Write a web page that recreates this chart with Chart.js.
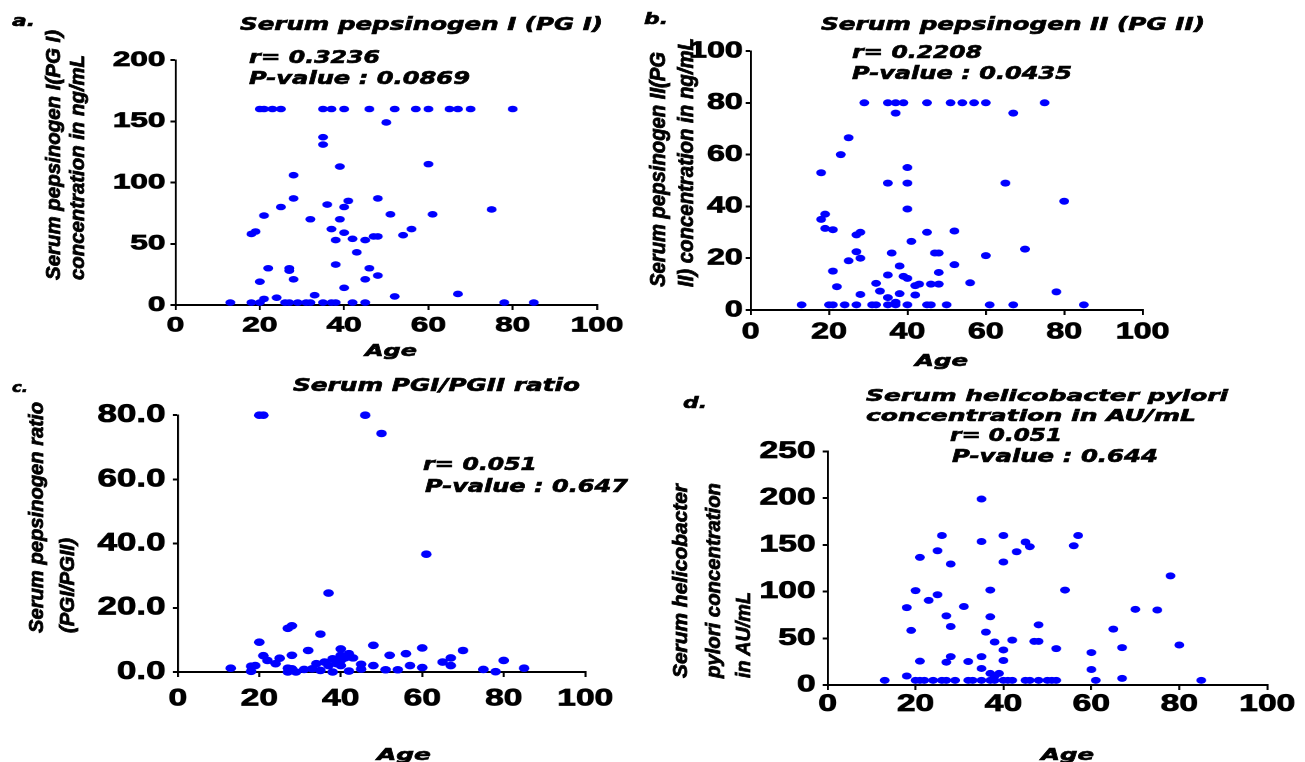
<!DOCTYPE html>
<html><head><meta charset="utf-8">
<script src="https://cdn.jsdelivr.net/npm/chart.js@4.4.1/dist/chart.umd.min.js"></script>
<style>
html,body{margin:0;padding:0;background:#fff;width:1305px;height:762px;overflow:hidden;}
.panel{position:absolute;top:0;width:700px;height:762px;transform-origin:0 0;}
.panel canvas{position:absolute;}
#overlay{position:absolute;left:0;top:0;width:1305px;height:762px;}
.t{position:absolute;white-space:nowrap;line-height:1;color:#000;}
.h{-webkit-text-stroke:0.6px #000;}
.v{-webkit-text-stroke:0.8px #000;}
</style></head><body>
<div id="pa" class="panel"><canvas id="ca"></canvas></div>
<div id="pb" class="panel"><canvas id="cb"></canvas></div>
<div id="pc" class="panel"><canvas id="cc"></canvas></div>
<div id="pd" class="panel"><canvas id="cd"></canvas></div>
<div id="overlay"></div>
<script>
// ---------- DATA ----------
const ageA = [20,21,23,25,35,37,40,46,52,57,60,65,67,70,80,
  50,35,35,39,60,28,28,48,25,36,40,41,21,51,61,75,32,39,18,19,37,56,40,38,42,45,47,48,54,43,22,27,27,28,20,38,46,45,48,40,33,52,67,24,21,
  13,18,20,26,27,29,31,32,35,37,38,42,45,78,85];
const pg1 = [160,160,160,160,160,160,160,160,160,160,160,160,160,160,160,
  149,137,131,113,115,106,87,87,80,82,80,85,73,74,74,78,70,70,58,60,62,62,59,53,54,53,56,56,57,43,30,30,28,21,19,33,30,21,24,14,8,7,9,6,5,
  2,2,2,2,2,2,2,2,2,2,2,2,2,2,2];

const ageB = [29,35,37,39,45,51,54,57,60,75,
  37,67,25,23,18,35,40,40,65,40,80,19,18,19,21,27,28,45,52,41,27,28,25,36,47,48,60,70,38,52,21,35,39,40,48,22,32,33,42,43,46,48,56,28,35,38,42,78,37,
  13,20,21,24,27,31,32,35,37,40,45,46,50,61,67,85];
const pg2 = [80,80,80,80,80,80,80,80,80,80,
  76,76,66.5,60,53,49,55,49,49,39,42,37,35,31.5,31,29,30,30,30.5,26.5,22.5,20,19,22,22,22,21,23.5,17,17.5,15,13.5,13,12.2,14.5,9,10.3,7.3,9.4,10,10,10,10.5,6,4.8,6.3,5.8,7,3,
  2,2,2,2,2,2,2,2,2,2,2,2,2,2,2,2];

const ageC = [20,21,46,50,61,37,27,28,35,20,48,60,70,32,40,28,21,25,42,43,52,56,67,65,67,80,57,60,13,75,78,85,54,51,42,45,45,48,24,22,18,19,18,27,27,29,31,33,35,36,37,38,38,39,40,40,41,34,28,40];
const ratio = [80,80,80,74.3,36.7,24.6,13.6,14.4,11.8,9.3,8.3,7.5,6.7,6.7,7.2,5.2,5.1,4.3,5.7,4.4,5.2,5.7,4.4,3.1,2,3.6,2,1.4,1.2,0.8,0.1,1.2,0.7,0.7,0.3,0.9,2.4,2,2.6,3.6,1.8,2,0.2,1.2,0,0,0.8,1,0.5,3.1,2,4.1,0,2.6,3.6,2,4.4,2.6,1,5.2];

const ageD = [35,26,40,57,35,45,46,56,43,25,21,28,40,78,20,37,54,25,23,18,31,70,75,27,37,28,48,19,65,36,38,42,47,48,80,40,52,67,28,35,60,27,21,32,40,35,60,18,67,37,38,39,
  13,20,21,22,24,26,27,29,32,33,35,37,38,40,41,42,45,46,48,50,51,52,61,85];
const hpylori = [199,160,160,160,153.6,153,148,149,142.6,143.7,136.6,129.5,131.6,116.8,101,101.6,101.6,96.6,90.6,82.8,84,81,80.3,74,73,62.6,64.4,58.4,59.8,56.6,46,48,46.7,46.7,42.8,37.5,38.9,40,30.4,30.4,34.7,24.4,25.5,25.1,26.2,17.7,16.6,9.6,7.1,12.4,9.6,12.4,
  5,5,5,5,5,5,5,5,5,5,5,5,5,5,5,5,5,5,5,5,5,5,5,5];

const xTicksMax = 100, xStep = 20;

// ---------- LAYOUT ----------
const PANELS = [
  {div:'pa', canvas:'ca', ages:ageA, vals:pg1, yMax:200, yStep:50, dec:0, origin:0,   sx:1.5, L:175,   R:596.7, T:60,    B:305,   xFont:21, yFont:21, yPad:3.4, xPad:3,   r:3.3},
  {div:'pb', canvas:'cb', ages:ageB, vals:pg2, yMax:100, yStep:20, dec:0, origin:640, sx:1.4, L:750,   R:1142.7,T:50.7,  B:310,   xFont:23, yFont:23, yPad:2,   xPad:3.5, r:3.5},
  {div:'pc', canvas:'cc', ages:ageC, vals:ratio, yMax:80, yStep:20, dec:1, origin:0,  sx:1.4, L:177.3, R:585,   T:413.3, B:671.7, xFont:24, yFont:25, yPad:5.2, xPad:7.5, r:3.8},
  {div:'pd', canvas:'cd', ages:ageD, vals:hpylori, yMax:250, yStep:50, dec:0, origin:640, sx:1.4, L:827.3, R:1267, T:449.5, B:685, xFont:24, yFont:24, yPad:5, xPad:0, r:3.5}
];
const PADL=8, PADT=18, PADR=28, PADB=4, YW=70, XH=52;

PANELS.forEach(p => {
  const div = document.getElementById(p.div);
  div.style.left = p.origin + 'px';
  div.style.transform = 'scaleX(' + p.sx + ')';
  const l = (p.L - p.origin) / p.sx, r = (p.R - p.origin) / p.sx;
  const cl = Math.round(l - PADL - YW);
  const ct = Math.round(p.T - PADT);
  const cv = document.getElementById(p.canvas);
  const W = Math.round(r - cl + PADR);
  const H = Math.round(p.B - ct + XH + PADB);
  cv.width = W; cv.height = H;
  cv.style.left = (l - PADL - YW) + 'px';
  cv.style.top = (p.T - PADT) + 'px';
  const pts = p.ages.map((a, i) => ({x: a, y: p.vals[i]}));
  new Chart(cv, {
    type: 'scatter',
    data: {datasets: [{data: pts, backgroundColor: '#0000ff', borderWidth: 0, pointRadius: p.r, pointHoverRadius: p.r, clip: false}]},
    options: {
      responsive: false, animation: false, devicePixelRatio: 2,
      layout: {padding: {left: PADL, top: PADT, right: PADR, bottom: PADB}},
      plugins: {legend: {display: false}, tooltip: {enabled: false}},
      scales: {
        x: {type: 'linear', min: 0, max: xTicksMax,
            ticks: {stepSize: xStep, color: '#000', padding: p.xPad, maxRotation: 0, autoSkip: false,
                    textStrokeColor: '#000', textStrokeWidth: 0.8,
                    font: {family: 'Liberation Sans', size: p.xFont, weight: 'bold'}},
            grid: {display: true, drawOnChartArea: false, drawTicks: true, tickLength: 5, color: '#000', lineWidth: 2 / p.sx},
            border: {display: true, color: '#000', width: 2},
            afterFit: s => { s.height = XH; }},
        y: {type: 'linear', min: 0, max: p.yMax,
            ticks: {stepSize: p.yStep, color: '#000', padding: p.yPad, callback: v => Number(v).toFixed(p.dec),
                    textStrokeColor: '#000', textStrokeWidth: 0.8,
                    font: {family: 'Liberation Sans', size: p.yFont, weight: 'bold'}},
            grid: {display: true, drawOnChartArea: false, drawTicks: true, tickLength: 5 / p.sx, color: '#000', lineWidth: 2},
            border: {display: true, color: '#000', width: 2 / p.sx},
            afterFit: s => { s.width = YW; }}
      }
    }
  });
  cv.style.width = W + 'px'; cv.style.height = H + 'px';
});

// ---------- TEXT ----------
const TEXTS = [
  {t:'a.', x:12, cy:20, w:23, size:16},
  {t:'Serum pepsinogen I (PG I)', x:240, cy:23.5, w:363, size:17},
  {t:'r= 0.3236', x:249, cy:57, w:131, size:17},
  {t:'P-value : 0.0869', x:249, cy:78, w:221, size:17},
  {t:'Age', x:365, cy:350, w:52, size:16},
  {t:'Serum pepsinogen I(PG I)', rot:true, cx:53, bottom:280, len:250, size:21},
  {t:'concentration in ng/mL', rot:true, cx:77, bottom:280, len:225, size:21},

  {t:'b.', x:644, cy:18, w:24, size:16},
  {t:'Serum pepsinogen II (PG II)', x:821, cy:23.5, w:384, size:17},
  {t:'r= 0.2208', x:852, cy:51.5, w:130, size:17},
  {t:'P-value : 0.0435', x:852, cy:72.5, w:220, size:17},
  {t:'Age', x:915, cy:360, w:53, size:16},
  {t:'Serum pepsinogen II(PG', rot:true, cx:658, bottom:287, len:235, size:22},
  {t:'II) concentration in ng/mL', rot:true, cx:686, bottom:287, len:249, size:22},

  {t:'c.', x:12, cy:387, w:16, size:14},
  {t:'Serum PGI/PGII ratio', x:293, cy:385, w:287, size:17},
  {t:'r= 0.051', x:423, cy:463.5, w:114, size:17},
  {t:'P-value : 0.647', x:425, cy:486, w:203, size:17},
  {t:'Age', x:377, cy:754, w:54, size:16},
  {t:'Serum pepsinogen ratio', rot:true, cx:36, bottom:633, len:231, size:21},
  {t:'(PGI/PGII)', rot:true, cx:67, bottom:633, len:95, size:21},

  {t:'d.', x:683, cy:402, w:24, size:16},
  {t:'Serum helicobacter pylori', x:866, cy:395, w:362, size:16},
  {t:'concentration in AU/mL', x:866, cy:415, w:330, size:16},
  {t:'r= 0.051', x:950, cy:434.5, w:112, size:17},
  {t:'P-value : 0.644', x:952, cy:455.5, w:206, size:17},
  {t:'Age', x:1041, cy:754, w:53, size:16},
  {t:'Serum helicobacter', rot:true, cx:680, bottom:678, len:194, size:21},
  {t:'pylori concentration', rot:true, cx:713, bottom:678, len:195, size:21},
  {t:'in AU/mL', rot:true, cx:743, bottom:678, len:86, size:21}
];
const overlay = document.getElementById('overlay');
TEXTS.forEach(s => {
  const el = document.createElement('div');
  el.className = 't ' + (s.rot ? 'v' : 'h');
  el.textContent = s.t;
  if (s.rot) {
    el.style.font = 'italic bold ' + s.size + 'px "Liberation Sans", Arial, sans-serif';
  } else {
    el.style.font = 'italic bold ' + s.size + 'px "DejaVu Sans", sans-serif';
  }
  overlay.appendChild(el);
  const w = el.getBoundingClientRect().width;
  if (s.rot) {
    el.style.left = s.cx + 'px';
    el.style.top = s.bottom + 'px';
    el.style.transformOrigin = '0 0';
    el.style.transform = 'rotate(-90deg) scaleX(' + (s.len / w) + ') translateY(-50%)';
  } else {
    const h = el.getBoundingClientRect().height;
    el.style.left = s.x + 'px';
    el.style.top = (s.cy - h / 2) + 'px';
    el.style.transformOrigin = '0 50%';
    el.style.transform = 'scaleX(' + (s.w / w) + ')';
  }
});
</script>
</body></html>
